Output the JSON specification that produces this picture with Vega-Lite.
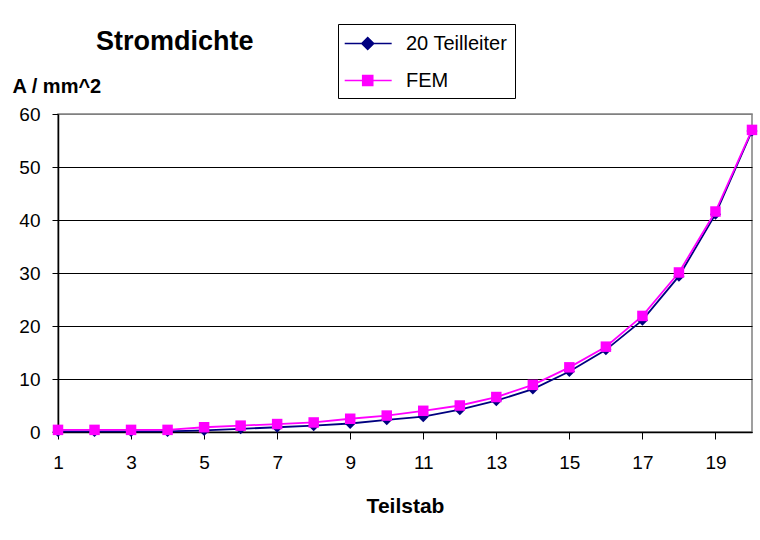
{
  "$schema": "https://vega.github.io/schema/vega-lite/v6.json",
  "width": 694,
  "height": 318,
  "autosize": {"type": "none"},
  "padding": {"left": 58, "top": 114, "right": 8, "bottom": 108},
  "background": "white",
  "config": {
    "font": "Liberation Sans",
    "view": {"stroke": "#808080", "strokeWidth": 1.5}
  },
  "title": {
    "text": "Stromdichte",
    "anchor": "start",
    "frame": "group",
    "fontSize": 27,
    "fontWeight": "bold",
    "color": "black",
    "dx": 38,
    "dy": 42,
    "offset": 10
  },
  "data": {
    "values": [
      {"Teilstab": 1, "series": "20 Teilleiter", "value": 0.1},
      {"Teilstab": 2, "series": "20 Teilleiter", "value": 0.1},
      {"Teilstab": 3, "series": "20 Teilleiter", "value": 0.1},
      {"Teilstab": 4, "series": "20 Teilleiter", "value": 0.1},
      {"Teilstab": 5, "series": "20 Teilleiter", "value": 0.3},
      {"Teilstab": 6, "series": "20 Teilleiter", "value": 0.6},
      {"Teilstab": 7, "series": "20 Teilleiter", "value": 0.9},
      {"Teilstab": 8, "series": "20 Teilleiter", "value": 1.2},
      {"Teilstab": 9, "series": "20 Teilleiter", "value": 1.6},
      {"Teilstab": 10, "series": "20 Teilleiter", "value": 2.3},
      {"Teilstab": 11, "series": "20 Teilleiter", "value": 2.9},
      {"Teilstab": 12, "series": "20 Teilleiter", "value": 4.2},
      {"Teilstab": 13, "series": "20 Teilleiter", "value": 5.9},
      {"Teilstab": 14, "series": "20 Teilleiter", "value": 8.1},
      {"Teilstab": 15, "series": "20 Teilleiter", "value": 11.4},
      {"Teilstab": 16, "series": "20 Teilleiter", "value": 15.5},
      {"Teilstab": 17, "series": "20 Teilleiter", "value": 21.1},
      {"Teilstab": 18, "series": "20 Teilleiter", "value": 29.4},
      {"Teilstab": 19, "series": "20 Teilleiter", "value": 41.1},
      {"Teilstab": 20, "series": "20 Teilleiter", "value": 56.8},
      {"Teilstab": 1, "series": "FEM", "value": 0.4},
      {"Teilstab": 2, "series": "FEM", "value": 0.4},
      {"Teilstab": 3, "series": "FEM", "value": 0.4},
      {"Teilstab": 4, "series": "FEM", "value": 0.4},
      {"Teilstab": 5, "series": "FEM", "value": 0.9},
      {"Teilstab": 6, "series": "FEM", "value": 1.2},
      {"Teilstab": 7, "series": "FEM", "value": 1.5},
      {"Teilstab": 8, "series": "FEM", "value": 1.8},
      {"Teilstab": 9, "series": "FEM", "value": 2.5},
      {"Teilstab": 10, "series": "FEM", "value": 3.1},
      {"Teilstab": 11, "series": "FEM", "value": 4.0},
      {"Teilstab": 12, "series": "FEM", "value": 5.0},
      {"Teilstab": 13, "series": "FEM", "value": 6.6},
      {"Teilstab": 14, "series": "FEM", "value": 8.9},
      {"Teilstab": 15, "series": "FEM", "value": 12.2},
      {"Teilstab": 16, "series": "FEM", "value": 16.1},
      {"Teilstab": 17, "series": "FEM", "value": 21.9},
      {"Teilstab": 18, "series": "FEM", "value": 30.1},
      {"Teilstab": 19, "series": "FEM", "value": 41.6},
      {"Teilstab": 20, "series": "FEM", "value": 57.0}
    ]
  },
  "encoding": {
    "x": {
      "field": "Teilstab",
      "type": "quantitative",
      "scale": {"domain": [1, 20], "nice": false, "zero": false},
      "axis": {
        "values": [1, 3, 5, 7, 9, 11, 13, 15, 17, 19],
        "grid": false,
        "domainColor": "black",
        "domainWidth": 1.5,
        "tickColor": "black",
        "tickSize": 7,
        "labelFontSize": 19,
        "labelColor": "black",
        "labelPadding": 14,
        "labelFlush": false,
        "title": "Teilstab",
        "titleFontSize": 21,
        "titleFontWeight": "bold",
        "titleColor": "black",
        "titleY": 80,
        "titleBaseline": "alphabetic"
      }
    },
    "y": {
      "field": "value",
      "type": "quantitative",
      "scale": {"domain": [0, 60], "nice": false},
      "axis": {
        "values": [0, 10, 20, 30, 40, 50, 60],
        "gridColor": {"condition": {"test": "datum.value === 60", "value": "#808080"}, "value": "black"},
        "gridOpacity": 1,
        "gridWidth": 1,
        "domainColor": "black",
        "domainWidth": 1.5,
        "tickColor": "black",
        "tickSize": 6,
        "labelFontSize": 19,
        "labelColor": "black",
        "labelPadding": 12,
        "title": "A / mm^2",
        "titleAngle": 0,
        "titleX": -46,
        "titleY": -22,
        "titleAlign": "left",
        "titleBaseline": "alphabetic",
        "titleFontSize": 20,
        "titleFontWeight": "bold",
        "titleColor": "black"
      }
    },
    "color": {
      "field": "series",
      "type": "nominal",
      "scale": {"domain": ["20 Teilleiter", "FEM"], "range": ["#000080", "#FF00FF"]},
      "legend": {
        "orient": "none",
        "legendX": 280,
        "legendY": -90,
        "title": null,
        "strokeColor": "black",
        "fillColor": "white",
        "padding": 7,
        "symbolSize": 552,
        "symbolStrokeWidth": 1.5,
        "symbolOpacity": 1,
        "labelFontSize": 20,
        "labelColor": "black",
        "labelOffset": 36,
        "labelLimit": 0,
        "labelExpr": "datum.label + '\u00a0\u00a0\u00a0\u00a0\u00a0'",
        "rowPadding": 14,
        "encode": {
          "symbols": {
            "update": {
              "shape": {"signal": "datum.value === 'FEM' ? 'M-1.09,0H2.91M0.44,-0.43H1.3V0.43H0.44Z' : 'M-1.09,0H2.91M0.36,0L0.87,-0.51L1.38,0L0.87,0.51Z'"},
              "fill": {"signal": "datum.value === 'FEM' ? '#FF00FF' : '#000080'"},
              "stroke": {"signal": "datum.value === 'FEM' ? '#FF00FF' : '#000080'"},
              "opacity": {"value": 1}
            }
          }
        }
      }
    }
  },
  "layer": [
    {"mark": {"type": "line", "strokeWidth": 1.8}},
    {
      "transform": [{"filter": "datum.series === '20 Teilleiter'"}],
      "mark": {"type": "point", "shape": "diamond", "filled": true, "opacity": 1, "size": 121}
    },
    {
      "transform": [{"filter": "datum.series === 'FEM'"}],
      "mark": {"type": "point", "shape": "square", "filled": true, "opacity": 1, "size": 110}
    }
  ]
}
